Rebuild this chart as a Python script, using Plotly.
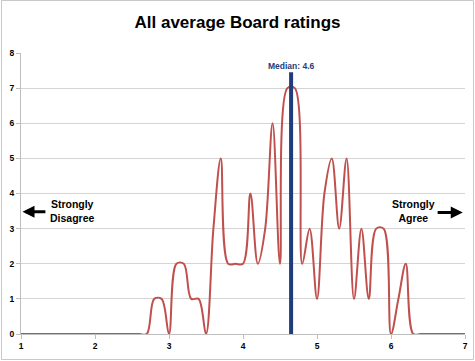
import plotly.graph_objects as go

# Average rating bins (x) and number of responses (y)
RATINGS = [1.0, 1.1, 1.2, 1.3, 1.4, 1.5, 1.6, 1.7, 1.8, 1.9,
           2.0, 2.1, 2.2, 2.3, 2.4, 2.5, 2.6, 2.7, 2.8, 2.9,
           3.0, 3.1, 3.2, 3.3, 3.4, 3.5, 3.6, 3.7, 3.8, 3.9,
           4.0, 4.1, 4.2, 4.3, 4.4, 4.5, 4.6, 4.7, 4.8, 4.9,
           5.0, 5.1, 5.2, 5.3, 5.4, 5.5, 5.6, 5.7, 5.8, 5.9,
           6.0, 6.1, 6.2, 6.3, 6.4, 6.5, 6.6, 6.7, 6.8, 6.9,
           7.0]
COUNTS = [0, 0, 0, 0, 0, 0, 0, 0, 0, 0,
          0, 0, 0, 0, 0, 0, 0, 0, 1, 1,
          0, 2, 2, 1, 1, 0, 3, 5, 2, 2,
          2, 4, 2, 3, 6, 2, 7, 7, 2, 3,
          1, 4, 5, 3, 5, 1, 3, 1, 3, 3,
          0, 1, 2, 0, 0, 0, 0, 0, 0, 0,
          0]

MEDIAN_X = 4.65
MEDIAN_TOP = 7.45
MEDIAN_LABEL = "Median: 4.6"

X_TICKS = [1, 2, 3, 4, 5, 6, 7]
Y_TICKS = [0, 1, 2, 3, 4, 5, 6, 7, 8]

TITLE = "All average Board ratings"
LEFT_TEXT = "Strongly<br>Disagree"
RIGHT_TEXT = "Strongly<br>Agree"

FONT = "Liberation Sans, Arial, sans-serif"
NAVY = "#1F3D7A"
GRID = "#D4D4D4"

fig = go.Figure()

fig.add_trace(go.Scatter(
    x=RATINGS, y=COUNTS, mode="lines",
    line=dict(color="#C0504D", width=2, shape="spline", smoothing=1.0),
    showlegend=False, hoverinfo="x+y",
))

fig.add_trace(go.Scatter(
    x=[MEDIAN_X, MEDIAN_X], y=[0, MEDIAN_TOP], mode="lines",
    line=dict(color=NAVY, width=4),
    showlegend=False, hoverinfo="skip",
))

fig.update_layout(
    width=475, height=361,
    margin=dict(l=21, r=10, t=53, b=27),
    paper_bgcolor="white", plot_bgcolor="white",
    title=dict(text=TITLE, x=0.5, xanchor="center", y=0.938, yanchor="middle",
               font=dict(family=FONT, size=17, color="black", weight="bold")),
    xaxis=dict(range=[1, 7], tickvals=X_TICKS, showgrid=False, zeroline=False,
               automargin=False,
               showline=True, linecolor="#BFBFBF", ticks="outside", ticklen=4,
               tickcolor="#BFBFBF",
               tickfont=dict(family=FONT, size=8.5, color="black", weight="bold")),
    yaxis=dict(range=[0, 8], tickvals=Y_TICKS, showgrid=True, gridcolor=GRID,
               automargin=False,
               gridwidth=1, zeroline=False, showline=True, linecolor="#BFBFBF",
               ticks="outside", ticklen=4, tickcolor="#BFBFBF",
               tickfont=dict(family=FONT, size=8.5, color="black", weight="bold")),
)

# Median label
fig.add_annotation(x=MEDIAN_X, y=7.62, xref="x", yref="y", text=MEDIAN_LABEL,
                   showarrow=False,
                   font=dict(family=FONT, size=8.5, color=NAVY, weight="bold"))

# Side labels
fig.add_annotation(x=1.69, y=3.5, xref="x", yref="y", text=LEFT_TEXT,
                   showarrow=False, align="center",
                   font=dict(family=FONT, size=10.5, color="black", weight="bold"))
fig.add_annotation(x=6.31, y=3.5, xref="x", yref="y", text=RIGHT_TEXT,
                   showarrow=False, align="center",
                   font=dict(family=FONT, size=10.5, color="black", weight="bold"))

# Arrows
fig.add_annotation(x=1.02, y=3.48, ax=1.35, ay=3.48, xref="x", yref="y",
                   axref="x", ayref="y", text="", showarrow=True,
                   arrowhead=2, arrowsize=0.8, arrowwidth=3, arrowcolor="black")
fig.add_annotation(x=6.97, y=3.46, ax=6.61, ay=3.46, xref="x", yref="y",
                   axref="x", ayref="y", text="", showarrow=True,
                   arrowhead=2, arrowsize=0.8, arrowwidth=3, arrowcolor="black")

# Chart-area border
fig.add_shape(type="rect", xref="paper", yref="paper",
              x0=(1.5 - 21) / 444, x1=(473.5 - 21) / 444,
              y0=(334 - 359.5) / 281, y1=(334 - 0.5) / 281,
              line=dict(color="#C8C8C8", width=1), layer="below")

fig.write_html("out.html",
               config={"displayModeBar": False},
               post_script="document.body.style.margin='0';")
